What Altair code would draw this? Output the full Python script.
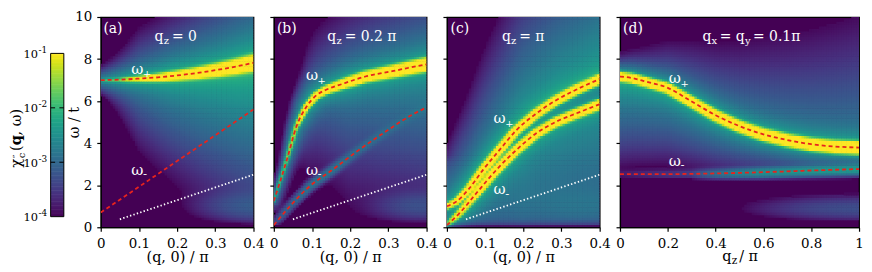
import numpy as np
import pandas as pd
import altair as alt

# ---------------- values ----------------
# panel (a): q_z = 0
QA_PLUS = [0.0, 0.05, 0.10, 0.15, 0.20, 0.25, 0.30, 0.35, 0.40]
WA_PLUS = [7.00, 7.02, 7.07, 7.13, 7.22, 7.33, 7.47, 7.63, 7.82]
QA_MINUS = [0.0, 0.20, 0.40]
WA_MINUS = [0.70, 3.15, 5.60]
# panel (b): q_z = 0.2 pi
QB_PLUS = [0.0, 0.034, 0.059, 0.085, 0.111, 0.137, 0.18, 0.24, 0.31, 0.36, 0.40]
WB_PLUS = [1.25, 3.20, 4.78, 5.72, 6.27, 6.54, 6.82, 7.17, 7.42, 7.61, 7.75]
QB_MINUS = [0.0, 0.042, 0.094, 0.154, 0.223, 0.292, 0.36, 0.40]
WB_MINUS = [0.10, 1.00, 1.95, 2.74, 3.68, 4.54, 5.33, 5.70]
# panel (c): q_z = pi
QC_PLUS = [0.0, 0.026, 0.056, 0.095, 0.138, 0.182, 0.234, 0.286, 0.338, 0.40]
WC_PLUS = [1.00, 1.24, 1.79, 2.74, 3.68, 4.62, 5.41, 6.04, 6.54, 7.05]
QC_MINUS = [0.0, 0.034, 0.078, 0.13, 0.182, 0.234, 0.286, 0.338, 0.40]
WC_MINUS = [0.10, 0.69, 1.64, 2.74, 3.68, 4.47, 5.02, 5.41, 5.85]
# panel (d): q_x = q_y = 0.1 pi, along q_z
QD_PLUS = [0.0, 0.05, 0.1, 0.2, 0.3, 0.4, 0.5, 0.6, 0.7, 0.8, 0.9, 1.0]
WD_PLUS = [7.17, 7.10, 6.95, 6.63, 5.98, 5.33, 4.81, 4.42, 4.15, 3.95, 3.84, 3.79]
QD_MINUS = [0.0, 0.2, 0.4, 0.6, 0.8, 1.0]
WD_MINUS = [2.53, 2.53, 2.56, 2.62, 2.70, 2.77]
# white dotted line (panels a-c)
Q_DOT = [0.05, 0.40]
W_DOT = [0.38, 2.50]

# spectral-weight estimates along the branches (read from the colours)
PA_PLUS = dict(q=[0, 0.05, 0.1, 0.2, 0.4], A=[0.004, 0.02, 0.12, 0.7, 1.0], gc=[1.0, 1.2, 1.5, 2.0, 3.2],
               H=[0.003, 0.005, 0.008, 0.011, 0.013], lu=[4, 5, 5, 6, 7], ld=[4, 5, 5, 6, 7],
               Cu=[0.0004, 0.001, 0.002, 0.0038, 0.0055], Lu=[0.3, 0.6, 0.84, 0.94, 1.3],
               Cd=[0.0004, 0.001, 0.002, 0.0042, 0.008], Ld=[0.3, 0.8, 1.2, 1.45, 2.0])
PB_PLUS = dict(q=[0, 0.03, 0.06, 0.09, 0.2, 0.4], A=[0.008, 0.02, 0.07, 0.4, 1, 1], gc=[1.1, 1.1, 1.2, 1.4, 2.0, 2.6],
               H=[0.003, 0.004, 0.006, 0.008, 0.011, 0.011], lu=[3, 3, 4, 5, 6, 6], ld=[3, 3, 4, 5, 6, 6],
               Cu=[0.0001, 0.0003, 0.0006, 0.0012, 0.002, 0.003], Lu=[0.3, 1.0, 1.2, 1.3, 1.3, 1.3],
               Cd=[0.0001, 0.0003, 0.0006, 0.001, 0.002, 0.0032], Ld=[0.3, 0.6, 1.0, 1.5, 2.0, 2.2])
PB_MINUS = dict(q=[0, 0.05, 0.1, 0.15, 0.2, 0.3, 0.4], A=[0.0006, 0.0009, 0.0013, 0.0013, 0.0009, 0.0005, 0.0004],
                gc=[3, 3, 3, 3, 3, 3, 3])
PC_PLUS = dict(q=[0, 0.05, 0.1, 0.2, 0.4], A=[0.15, 0.5, 1, 1, 1], gc=[1.4, 1.6, 1.7, 1.8, 1.9],
               H=[0.008, 0.01, 0.012, 0.012, 0.012], lu=[4, 5, 5, 5, 5], ld=[4, 5, 5, 5, 5],
               Cu=[0.002, 0.0025, 0.003, 0.0045, 0.0055], Lu=[1.5, 1.6, 1.8, 2.0, 2.1],
               Cd=[0.0008] * 5, Ld=[0.5] * 5)
PC_MINUS = dict(q=[0, 0.05, 0.1, 0.2, 0.4], A=[0.03, 0.3, 1, 1, 1], gc=[1.4, 1.6, 1.7, 1.8, 1.9],
                H=[0.006, 0.01, 0.012, 0.012, 0.012], lu=[4, 5, 5, 5, 5], ld=[4, 5, 5, 5, 5],
                Cu=[0.0003] * 5, Lu=[0.3] * 5,
                Cd=[0.001, 0.0015, 0.002, 0.0028, 0.003], Ld=[1.0, 2.0, 2.5, 3.3, 3.5])
PD_PLUS = dict(q=[0, 0.3, 0.6, 1.0], A=[1, 1, 1, 1], gc=[1.8, 2.0, 2.3, 2.5],
               H=[0.011] * 4, lu=[4, 5, 6, 6], ld=[5, 5, 5, 5],
               Cu=[0.0015, 0.002, 0.002, 0.002], Lu=[0.4, 1.0, 1.6, 2.2],
               Cd=[0.005, 0.0035, 0.0025, 0.002], Ld=[1.3, 1.1, 0.9, 0.7])
PD_MINUS = dict(q=[0, 0.3, 0.45, 0.6, 1.0], A=[0.0001, 0.0003, 0.0015, 0.003, 0.004], gc=[3] * 5)

# ---------------- layout constants ----------------
SY = 21.2
W_ABC, W_D, H = 154, 241, 212
SPACING = 20.5
CB_W = 29.1
FONT = "DejaVu Serif"
RED = "#e8231d"


def sig(x):
    return 1.0 / (1.0 + np.exp(-np.clip(x, -50, 50)))


def band_val(Qf, Wf, cq, cw, sx, p, lowcut=None):
    cq = np.asarray(cq, float)
    cw = np.asarray(cw, float)
    t = np.linspace(cq[0], cq[-1], 300)
    ct = np.interp(t, cq, cw)
    dx = (Qf[:, None] - t[None, :]) * sx
    dy = (Wf[:, None] - ct[None, :]) * SY
    d2 = dx * dx + dy * dy
    k = d2.argmin(axis=1)
    d = np.sqrt(d2[np.arange(len(Qf)), k])
    tq = t[k]

    def f(key, x):
        return np.interp(x, p["q"], p[key])

    val = f("A", tq) * np.exp(-0.5 * (d / f("gc", tq)) ** 2)
    wb = np.interp(Qf, cq, cw)
    above = Wf >= wb
    if "H" in p:
        lam = np.where(above, f("lu", tq), f("ld", tq))
        val = val + f("H", tq) * np.exp(-d / lam)
    if "Cu" in p:
        delta = np.abs(Wf - wb)
        cont = np.where(above, f("Cu", Qf) * np.exp(-delta / f("Lu", Qf)),
                        f("Cd", Qf) * np.exp(-delta / f("Ld", Qf)))
        if lowcut is not None:
            wl = np.interp(Qf, lowcut[0], lowcut[1])
            cont = cont * np.where(above, 1.0, sig((Wf - wl) / 0.6))
        val = val + cont
    return val


def heat_cells(qmax, width_px, bands, blobs, cut=None, w0=0.3):
    nq = int(round(width_px / 2.5))
    nw = 85
    dq, dw = qmax / nq, 10.0 / nw
    qc = (np.arange(nq) + 0.5) * dq
    wc = (np.arange(nw) + 0.5) * dw
    Q, W = np.meshgrid(qc, wc)
    Qf, Wf = Q.ravel(), W.ravel()
    sx = width_px / qmax
    v = np.zeros_like(Qf)
    for cq, cw, p, lowcut in bands:
        v = v + band_val(Qf, Wf, cq, cw, sx, p, lowcut)
    for q0, wb0, sq, sw, amp in blobs:
        v = v + amp * np.exp(-((Qf - q0) / sq) ** 2 - ((Wf - wb0) / sw) ** 2)
    if cut is not None:
        cut_w, cut_q, s = cut
        qcut = np.interp(Wf, cut_w, cut_q)
        v = v * sig((Qf - qcut) * sx / s)
    v = v * np.tanh(Wf / w0)
    keep = v > 1.15e-4
    df = pd.DataFrame({
        "q": np.clip(Qf - 0.62 * dq, 0, qmax), "q2": np.clip(Qf + 0.62 * dq, 0, qmax),
        "w": np.clip(Wf - 0.62 * dw, 0, 10), "w2": np.clip(Wf + 0.62 * dw, 0, 10),
        "lv": np.log10(np.maximum(v, 1e-6))})[keep]
    return df.round(4)


cells_a = heat_cells(0.4, W_ABC, [(QA_PLUS, WA_PLUS, PA_PLUS, None)],
                     [(0.40, 1.0, 0.12, 0.6, 5e-4)])
cells_b = heat_cells(0.4, W_ABC, [(QB_PLUS, WB_PLUS, PB_PLUS, None), (QB_MINUS, WB_MINUS, PB_MINUS, None)],
                     [(0.38, 1.0, 0.10, 0.6, 4e-4)], cut=([0, 1.0, 10], [-0.3, 0.0, 0.075], 5))
cells_c = heat_cells(0.4, W_ABC, [(QC_PLUS, WC_PLUS, PC_PLUS, None), (QC_MINUS, WC_MINUS, PC_MINUS, None)],
                     [(0.36, 1.0, 0.15, 0.9, 7e-4)], cut=([0, 3.4, 10], [-0.3, 0.0, 0.085], 6), w0=0.35)
cells_d = heat_cells(1.0, W_D, [(QD_PLUS, WD_PLUS, PD_PLUS, (QD_MINUS, WD_MINUS)),
                                (QD_MINUS, WD_MINUS, PD_MINUS, None)],
                     [(1.0, 0.9, 0.4, 0.55, 5e-4)])

CSCALE = alt.Scale(domain=[-4, -1], scheme="viridis", clamp=True)


def text_rows(base_q, base_w, sx, items):
    rows = []
    for dx, dy, t, s in items:
        rows.append({"q": base_q + dx / sx, "w": base_w - dy / SY, "t": t, "s": s})
    return rows


def panel(cells, qmax, width, curves, texts, xvals, xtitle, first, extra_black=None):
    xs = alt.Scale(domain=[0, qmax], nice=False, zero=False)
    ys = alt.Scale(domain=[0, 10], nice=False, zero=False)
    if xtitle:
        xax = alt.Axis(values=xvals, format="~g", title=xtitle, titlePadding=1)
    else:
        xax = alt.Axis(values=xvals, format="~g", title=None)
    if first:
        yax = alt.Axis(values=[0, 2, 4, 6, 8, 10], title="ω / t", titlePadding=-7)
    else:
        yax = alt.Axis(values=[0, 2, 4, 6, 8, 10], labels=False, title=None)
    X = alt.X("q:Q", scale=xs, axis=xax)
    Y = alt.Y("w:Q", scale=ys, axis=yax)
    layers = [alt.Chart(cells).mark_rect(clip=True).encode(
        x=X, x2=alt.X2("q2"), y=Y, y2=alt.Y2("w2"),
        color=alt.Color("lv:Q", scale=CSCALE, legend=None))]
    for cq, cw, kind in curves:
        df = pd.DataFrame({"q": cq, "w": cw})
        if kind == "red":
            mk = alt.Chart(df).mark_line(color=RED, strokeWidth=1.8, strokeDash=[4, 3],
                                         interpolate="monotone", clip=True)
        else:
            mk = alt.Chart(df).mark_line(color="white", strokeWidth=1.8, strokeDash=[1.4, 2.2],
                                         clip=True)
        layers.append(mk.encode(x=X, y=Y))
    tdf = pd.DataFrame(texts)
    layers.append(alt.Chart(tdf).mark_text(color="white", font=FONT, align="left",
                                           baseline="alphabetic").encode(
        x=X, y=Y, text="t:N", size=alt.Size("s:Q", scale=None)))
    if extra_black is not None:
        layers.append(alt.Chart(pd.DataFrame(extra_black)).mark_text(
            color="black", font=FONT, align="left", baseline="alphabetic").encode(
            x=X, y=Y, text="t:N", size=alt.Size("s:Q", scale=None)))
    return alt.layer(*layers).properties(
        width=width, height=H,
        view=alt.ViewBackground(fill="#440154", stroke="black", strokeWidth=1.2))


SXA = W_ABC / 0.4
SXD = W_D / 1.0
XV4 = [0, 0.1, 0.2, 0.3, 0.4]
QZ = [(0, 0, "q", 14), (9.2, 3.2, "z", 10)]
WP = [(0, 0, "ω", 15), (11.8, 3.5, "+", 10)]
WM = [(0, 0, "ω", 15), (11.8, 3.5, "-", 12)]

texts_a = (text_rows(0.007, 9.25, SXA, [(0, 0, "(a)", 14)])
           + text_rows(0.141, 8.87, SXA, QZ + [(17.5, 0, "= 0", 14)])
           + text_rows(0.080, 7.30, SXA, WP) + text_rows(0.080, 2.50, SXA, WM))
texts_b = (text_rows(0.008, 9.25, SXA, [(0, 0, "(b)", 14)])
           + text_rows(0.140, 8.87, SXA, QZ + [(17.5, 0, "= 0.2 π", 14)])
           + text_rows(0.084, 6.98, SXA, WP) + text_rows(0.084, 2.50, SXA, WM))
texts_c = (text_rows(0.0096, 9.25, SXA, [(0, 0, "(c)", 14)])
           + text_rows(0.144, 8.87, SXA, QZ + [(17.5, 0, "= π", 14)])
           + text_rows(0.122, 4.95, SXA, WP) + text_rows(0.122, 1.56, SXA, WM))
texts_d = (text_rows(0.013, 9.25, SXD, [(0, 0, "(d)", 14)])
           + text_rows(0.345, 8.87, SXD, [(0, 0, "q", 14), (9.2, 3.2, "x", 10), (17.5, 0, "= q", 14),
                                          (42.9, 3.2, "y", 10), (51.0, 0, "= 0.1π", 14)])
           + text_rows(0.204, 6.84, SXD, WP) + text_rows(0.204, 2.92, SXD, WM))
title_d = text_rows(0.428, -1.60, SXD, [(0, 0, "q", 14.5), (9.4, 3.2, "z", 10.5), (17, 0, "/ π", 14.5)])

pa = panel(cells_a, 0.4, W_ABC, [(QA_PLUS, WA_PLUS, "red"), (QA_MINUS, WA_MINUS, "red"), (Q_DOT, W_DOT, "dot")],
           texts_a, XV4, "(q, 0) / π", True)
pb = panel(cells_b, 0.4, W_ABC, [(QB_PLUS, WB_PLUS, "red"), (QB_MINUS, WB_MINUS, "red"), (Q_DOT, W_DOT, "dot")],
           texts_b, XV4, "(q, 0) / π", False)
pc = panel(cells_c, 0.4, W_ABC, [(QC_PLUS, WC_PLUS, "red"), (QC_MINUS, WC_MINUS, "red"), (Q_DOT, W_DOT, "dot")],
           texts_c, XV4, "(q, 0) / π", False)
pd_ = panel(cells_d, 1.0, W_D, [(QD_PLUS, WD_PLUS, "red"), (QD_MINUS, WD_MINUS, "red")],
            texts_d, [0, 0.2, 0.4, 0.6, 0.8, 1], None, False, extra_black=title_d)

# ---------------- colour bar ----------------
CB_TICKS = [1e-4, 1e-3, 1e-2, 1e-1]
CB_EXP = ["-4", "-3", "-2", "-1"]
lvs = np.linspace(-4, -1, 121)
step = lvs[1] - lvs[0]
cbdf = pd.DataFrame({"x": 0.0, "x2": 1.0, "lo": 10 ** lvs[:-1],
                     "hi": 10 ** np.minimum(lvs[:-1] + 1.4 * step, -1), "lv": lvs[:-1] + step / 2})
cxs = alt.Scale(domain=[0, CB_W / 13.3], nice=False, zero=False)
cys = alt.Scale(type="log", domain=[10 ** -4.195, 10 ** -0.3311], nice=False)
CX = alt.X("x:Q", scale=cxs, axis=None)
CY = alt.Y("lo:Q", scale=cys, axis=None)
cb_layers = [
    alt.Chart(cbdf).mark_rect().encode(x=CX, x2=alt.X2("x2"), y=CY, y2=alt.Y2("hi"),
                                       color=alt.Color("lv:Q", scale=CSCALE, legend=None)),
    alt.Chart(pd.DataFrame({"x": [0.0], "x2": [1.0], "lo": [1e-4], "hi": [1e-1]})).mark_rect(
        filled=False, stroke="black", strokeWidth=1).encode(x=CX, x2=alt.X2("x2"), y=CY, y2=alt.Y2("hi")),
    alt.Chart(pd.DataFrame({"x": [0.0, 0.0], "x2": [1.0, 1.0], "lo": [1e-3, 1e-2]})).mark_rule(
        color="black", strokeWidth=1, strokeDash=[4.5, 4.3]).encode(x=CX, x2=alt.X2("x2"), y=CY),
    alt.Chart(pd.DataFrame({"lo": CB_TICKS, "t": ["10"] * 4})).mark_text(
        font=FONT, fontSize=11.5, align="right", baseline="middle", dy=1.5).encode(
        x=alt.value(-12.7), y=CY, text="t:N"),
    alt.Chart(pd.DataFrame({"lo": CB_TICKS, "t": CB_EXP})).mark_text(
        font=FONT, fontSize=9, align="left", baseline="middle", dy=-3.5).encode(
        x=alt.value(-12.2), y=CY, text="t:N"),
]
# rotated colour-bar title: chi''_c(q, omega)
TB_X = 18.0 - 47.7
for px, py, t, s, wgt in [(0, 168, "χ", 15, "normal"), (3.5, 158.5, "c", 10, "normal"),
                          (-1.0, 158.5, "″", 10, "normal"), (0, 151, "(", 14.5, "normal"),
                          (0, 145.3, "q", 14.5, "bold"), (0, 135.4, ", ω)", 14.5, "normal")]:
    cb_layers.append(alt.Chart(pd.DataFrame({"t": [t]})).mark_text(
        font=FONT, fontSize=s, fontWeight=wgt, angle=270, align="left", baseline="alphabetic").encode(
        x=alt.value(TB_X + px), y=alt.value(py - 16), text="t:N"))

cbar = alt.layer(*cb_layers).properties(
    width=CB_W, height=H, view=alt.ViewBackground(stroke="transparent"))

chart = alt.hconcat(cbar, pa, pb, pc, pd_, spacing=SPACING, bounds="flush").properties(
    padding={"left": 0, "top": 0, "right": 0, "bottom": 0}
).configure_axis(
    labelFont=FONT, labelFontSize=13.5, titleFont=FONT, titleFontSize=14.5, titleFontWeight="normal",
    labelColor="black", titleColor="black", tickColor="black", domainColor="black",
    tickSize=4, labelPadding=5, grid=False, labelFlush=False, domainWidth=1.2, tickWidth=1.2
).configure_view(stroke="black", strokeWidth=1.2)

chart.save("out.html", embed_options={"renderer": "svg", "actions": False})
